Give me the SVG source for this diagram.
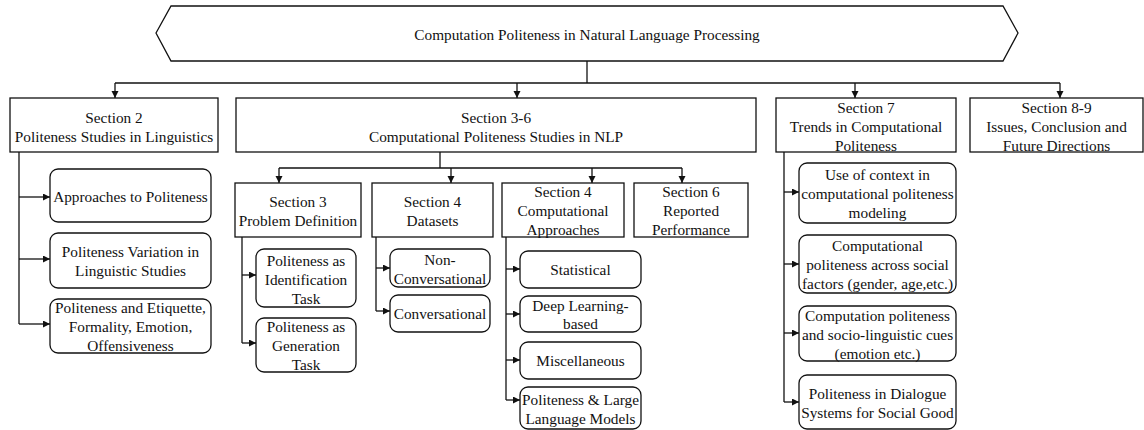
<svg xmlns="http://www.w3.org/2000/svg" width="1144" height="430" viewBox="0 0 1144 430">
<style>
.box{fill:#fff;stroke:#111;stroke-width:1.3}
.rbox{fill:#fff;stroke:#111;stroke-width:1.3}
text{font-family:'Liberation Serif','DejaVu Serif',serif;font-size:15.3px;fill:#111;text-anchor:middle;dominant-baseline:central}
.c{fill:none;stroke:#111;stroke-width:1.3}
.a{fill:none;stroke:#111;stroke-width:1.3;marker-end:url(#arr)}
</style>
<defs>
<marker id="arr" markerUnits="userSpaceOnUse" markerWidth="8" markerHeight="8" refX="7" refY="3.5" orient="auto">
<path d="M0,0 L7,3.5 L0,7 Z" fill="#111"/>
</marker>
</defs>
<rect width="1144" height="430" fill="#fff"/>
<g id="connectors">
<path class="c" d="M587,61 V83"/>
<path class="c" d="M115,83 H1060"/>
<path class="a" d="M115,83 V98"/>
<path class="a" d="M517,83 V98"/>
<path class="a" d="M855,83 V98"/>
<path class="a" d="M1060,83 V98"/>
<path class="c" d="M440,152 V168"/>
<path class="c" d="M279,168 H682"/>
<path class="a" d="M279,168 V183"/>
<path class="a" d="M451,168 V183"/>
<path class="a" d="M592,168 V183"/>
<path class="a" d="M682,168 V183"/>
<path class="c" d="M19,152 V324"/>
<path class="a" d="M19,197 H50"/>
<path class="a" d="M19,259 H50"/>
<path class="a" d="M19,324 H50"/>
<path class="c" d="M242,237 V343"/>
<path class="a" d="M242,275 H256"/>
<path class="a" d="M242,343 H256"/>
<path class="c" d="M376,237 V311"/>
<path class="a" d="M376,268 H390"/>
<path class="a" d="M376,311 H390"/>
<path class="c" d="M506,237 V400"/>
<path class="a" d="M506,269 H520"/>
<path class="a" d="M506,314 H520"/>
<path class="a" d="M506,360 H520"/>
<path class="a" d="M506,400 H520"/>
<path class="c" d="M784,152 V402"/>
<path class="a" d="M784,192 H799"/>
<path class="a" d="M784,264 H799"/>
<path class="a" d="M784,333 H799"/>
<path class="a" d="M784,402 H799"/>
</g>
<g id="title">
<polygon class="box" points="156,33 171,6 1003,6 1018,33 1003,61 171,61"/>
<text x="587" y="34">Computation Politeness in Natural Language Processing</text>
</g>
<g id="s2">
<rect class="box" x="10" y="98" width="208" height="54"/>
<text x="114" y="117">Section 2</text>
<text x="114" y="136">Politeness Studies in Linguistics</text>
</g>
<g id="s36">
<rect class="box" x="236" y="98" width="520" height="54"/>
<text x="496" y="117">Section 3-6</text>
<text x="496" y="136">Computational Politeness Studies in NLP</text>
</g>
<g id="s7">
<rect class="box" x="776" y="98" width="180" height="54"/>
<text x="866" y="107">Section 7</text>
<text x="866" y="126">Trends in Computational</text>
<text x="866" y="145">Politeness</text>
</g>
<g id="s89">
<rect class="box" x="970" y="98" width="173" height="54"/>
<text x="1056.5" y="107">Section 8-9</text>
<text x="1056.5" y="126">Issues, Conclusion and</text>
<text x="1056.5" y="145">Future Directions</text>
</g>
<g id="s3">
<rect class="box" x="235" y="183" width="126" height="54"/>
<text x="298" y="201">Section 3</text>
<text x="298" y="220">Problem Definition</text>
</g>
<g id="s4d">
<rect class="box" x="372" y="183" width="121" height="54"/>
<text x="432.5" y="201">Section 4</text>
<text x="432.5" y="220">Datasets</text>
</g>
<g id="s4c">
<rect class="box" x="502" y="183" width="122" height="54"/>
<text x="563" y="191">Section 4</text>
<text x="563" y="210">Computational</text>
<text x="563" y="229">Approaches</text>
</g>
<g id="s6">
<rect class="box" x="634" y="183" width="114" height="54"/>
<text x="691" y="191">Section 6</text>
<text x="691" y="210">Reported</text>
<text x="691" y="229">Performance</text>
</g>
<g id="l1">
<rect class="rbox" x="50" y="169" width="161" height="53" rx="8"/>
<text x="130.5" y="196">Approaches to Politeness</text>
</g>
<g id="l2">
<rect class="rbox" x="50" y="233" width="161" height="55" rx="8"/>
<text x="130.5" y="251">Politeness Variation in</text>
<text x="130.5" y="270">Linguistic Studies</text>
</g>
<g id="l3">
<rect class="rbox" x="50" y="299" width="161" height="54" rx="8"/>
<text x="130.5" y="307">Politeness and Etiquette,</text>
<text x="130.5" y="326">Formality, Emotion,</text>
<text x="130.5" y="345">Offensiveness</text>
</g>
<g id="p1">
<rect class="rbox" x="256" y="249" width="100" height="58" rx="8"/>
<text x="306" y="260">Politeness as</text>
<text x="306" y="279">Identification</text>
<text x="306" y="298">Task</text>
</g>
<g id="p2">
<rect class="rbox" x="256" y="318" width="100" height="54" rx="8"/>
<text x="306" y="326">Politeness as</text>
<text x="306" y="345">Generation</text>
<text x="306" y="364">Task</text>
</g>
<g id="d1">
<rect class="rbox" x="390" y="249" width="100" height="38" rx="8"/>
<text x="440" y="259">Non-</text>
<text x="440" y="278">Conversational</text>
</g>
<g id="d2">
<rect class="rbox" x="390" y="295" width="100" height="37" rx="8"/>
<text x="440" y="313">Conversational</text>
</g>
<g id="c1">
<rect class="rbox" x="520" y="251" width="121" height="37" rx="8"/>
<text x="580.5" y="269">Statistical</text>
</g>
<g id="c2">
<rect class="rbox" x="520" y="296" width="121" height="36" rx="8"/>
<text x="580.5" y="305">Deep Learning-</text>
<text x="580.5" y="323">based</text>
</g>
<g id="c3">
<rect class="rbox" x="520" y="342" width="121" height="37" rx="8"/>
<text x="580.5" y="360">Miscellaneous</text>
</g>
<g id="c4">
<rect class="rbox" x="520" y="387" width="121" height="42" rx="8"/>
<text x="580.5" y="399">Politeness &amp; Large</text>
<text x="580.5" y="418">Language Models</text>
</g>
<g id="t1">
<rect class="rbox" x="799" y="163" width="157" height="60" rx="8"/>
<text x="877.5" y="174">Use of context in</text>
<text x="877.5" y="193">computational politeness</text>
<text x="877.5" y="212">modeling</text>
</g>
<g id="t2">
<rect class="rbox" x="799" y="235" width="157" height="58" rx="8"/>
<text x="877.5" y="245">Computational</text>
<text x="877.5" y="264">politeness across social</text>
<text x="877.5" y="283">factors (gender, age,etc.)</text>
</g>
<g id="t3">
<rect class="rbox" x="799" y="306" width="157" height="55" rx="8"/>
<text x="877.5" y="315">Computation politeness</text>
<text x="877.5" y="334">and socio-linguistic cues</text>
<text x="877.5" y="353">(emotion etc.)</text>
</g>
<g id="t4">
<rect class="rbox" x="799" y="375" width="157" height="54" rx="8"/>
<text x="877.5" y="393">Politeness in Dialogue</text>
<text x="877.5" y="412">Systems for Social Good</text>
</g>
</svg>
